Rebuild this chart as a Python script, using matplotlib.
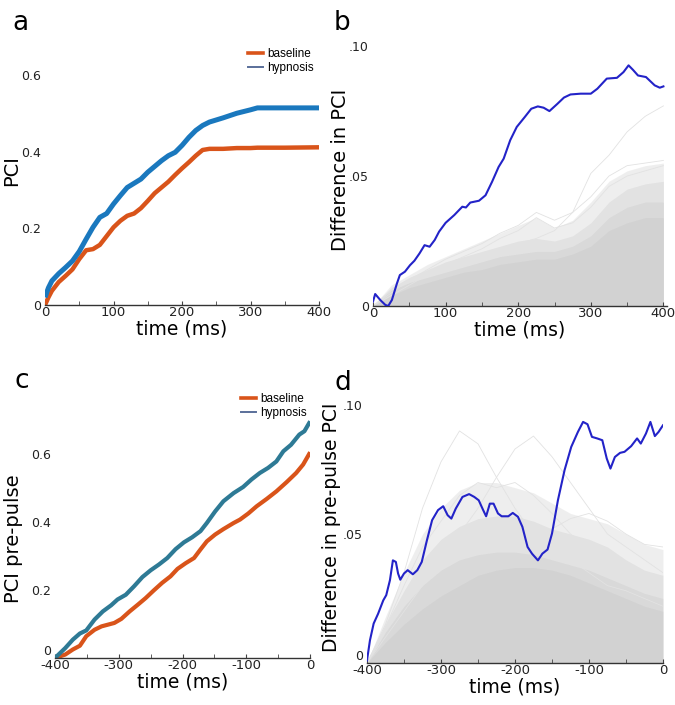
import numpy as np
import matplotlib.pyplot as plt
from matplotlib.lines import Line2D
from matplotlib.ticker import MultipleLocator

# ---- panel a: PCI after pulse ----
t_a = [0, 5, 10, 20, 30, 40, 50, 60, 70, 80, 90, 100, 110, 120, 130, 140, 150,
       160, 170, 180, 190, 200, 210, 220, 230, 240, 260, 280, 300, 310, 350, 400]
pci_baseline = [0.0, 0.02, 0.037, 0.06, 0.076, 0.093, 0.12, 0.143, 0.146, 0.157, 0.18, 0.203,
                0.22, 0.233, 0.239, 0.253, 0.272, 0.292, 0.307, 0.322, 0.34, 0.357, 0.373,
                0.39, 0.405, 0.408, 0.408, 0.41, 0.41, 0.411, 0.411, 0.412]
pci_hypnosis = [0.02, 0.045, 0.063, 0.082, 0.098, 0.115, 0.14, 0.172, 0.203, 0.229, 0.239,
                0.264, 0.286, 0.307, 0.318, 0.329, 0.347, 0.362, 0.377, 0.39, 0.399, 0.417,
                0.438, 0.456, 0.469, 0.478, 0.489, 0.501, 0.51, 0.515, 0.515, 0.515]

# ---- panel b: observed difference + permutation distribution ----
t_b = [0, 3, 10, 17, 21, 26, 33, 37, 44, 51, 57, 64, 71, 78, 85, 91, 100, 112, 123, 128,
       134, 146, 155, 164, 173, 180, 189, 198, 209, 218, 227, 235, 243, 254, 263, 272,
       286, 300, 309, 322, 336, 345, 352, 358, 365, 376, 388, 395, 400]
diff_b = [0.0017, 0.0046, 0.0023, 0.0004, 0.0, 0.0023, 0.0087, 0.0119, 0.0132, 0.0157,
          0.0174, 0.0202, 0.0234, 0.0228, 0.0254, 0.0286, 0.032, 0.035, 0.0382, 0.0379,
          0.0398, 0.0405, 0.0426, 0.0478, 0.0535, 0.0567, 0.0638, 0.0689, 0.0727, 0.0759,
          0.0768, 0.0763, 0.075, 0.0778, 0.0802, 0.0814, 0.0817, 0.0817, 0.0836, 0.0875,
          0.0878, 0.09, 0.0926, 0.0909, 0.0887, 0.0881, 0.0849, 0.084, 0.0845]

t_perm_b = [0, 25, 50, 75, 100, 125, 150, 175, 200, 225, 250, 275, 300, 325, 350, 375, 400]
# envelopes of the gray permutation curves, bottom (solid) to top (sparse)
perm_b_env = [
    [0, .004, .007, .009, .011, .013, .014, .016, .017, .018, .018, .020, .023, .029, .032, .034, .034],
    [0, .006, .009, .011, .013, .015, .017, .019, .020, .021, .021, .023, .027, .034, .038, .040, .040],
    [0, .007, .011, .014, .017, .019, .021, .023, .025, .026, .025, .027, .032, .040, .045, .047, .048],
    [0, .008, .012, .016, .019, .022, .025, .028, .031, .034, .030, .033, .040, .048, .052, .054, .055],
]
perm_b_lines = [
    [0, .004, .008, .012, .015, .018, .020, .022, .024, .026, .029, .036, .051, .058, .067, .073, .077],
    [0, .005, .010, .014, .018, .021, .024, .028, .031, .036, .033, .036, .042, .050, .054, .055, .056],
    [0, .006, .009, .013, .016, .019, .022, .026, .029, .034, .030, .032, .038, .046, .050, .052, .054],
]

# ---- panel c: PCI before pulse ----
t_c = [-400, -384, -372, -361, -351, -338, -327, -317, -307, -296, -283, -270, -258, -245,
       -232, -219, -208, -195, -182, -172, -162, -149, -136, -120, -110, -97, -84, -68,
       -53, -37, -22, -11, 0]
pre_baseline = [0.0, 0.01, 0.025, 0.036, 0.064, 0.083, 0.093, 0.098, 0.103, 0.115, 0.137,
                0.157, 0.176, 0.199, 0.221, 0.24, 0.262, 0.279, 0.294, 0.319, 0.343, 0.363,
                0.379, 0.397, 0.407, 0.425, 0.446, 0.468, 0.49, 0.517, 0.544, 0.569, 0.605]
t_c2 = [-400, -384, -372, -361, -351, -338, -325, -312, -302, -289, -276, -263, -250, -237,
        -224, -211, -198, -185, -172, -162, -149, -136, -120, -105, -92, -79, -66, -53,
        -42, -30, -17, -9, 0]
pre_hypnosis = [0.0, 0.029, 0.054, 0.072, 0.081, 0.113, 0.137, 0.155, 0.172, 0.186, 0.211,
                0.238, 0.258, 0.275, 0.294, 0.32, 0.34, 0.355, 0.373, 0.397, 0.431, 0.461,
                0.485, 0.503, 0.525, 0.544, 0.559, 0.578, 0.608, 0.627, 0.657, 0.667, 0.696]

# ---- panel d: observed pre-pulse difference + permutation distribution ----
t_d = [-400, -396, -391, -385, -378, -374, -369, -365, -361, -358, -355, -350, -345, -338,
       -332, -326, -319, -312, -304, -297, -291, -286, -280, -271, -262, -255, -249, -243,
       -239, -234, -229, -223, -218, -209, -203, -196, -190, -183, -177, -169, -163, -156,
       -150, -142, -133, -124, -115, -108, -102, -96, -89, -82, -76, -71, -65, -58, -52,
       -43, -35, -30, -23, -17, -11, -6, 0]
diff_d = [0.001, 0.0088, 0.0153, 0.0191, 0.0243, 0.0263, 0.0321, 0.0398, 0.0392, 0.0347,
          0.0323, 0.0347, 0.036, 0.0344, 0.036, 0.0392, 0.0476, 0.0554, 0.0593, 0.0608,
          0.0573, 0.056, 0.0599, 0.0644, 0.0655, 0.0644, 0.0631, 0.0593, 0.0569, 0.0618,
          0.0618, 0.058, 0.0569, 0.0569, 0.0582, 0.0567, 0.0528, 0.045, 0.0424, 0.0398,
          0.0424, 0.044, 0.0502, 0.0631, 0.0748, 0.0838, 0.0896, 0.0935, 0.0926, 0.0877,
          0.0871, 0.0864, 0.0793, 0.0754, 0.0799, 0.0815, 0.0819, 0.0841, 0.0871, 0.0851,
          0.089, 0.0935, 0.088, 0.0896, 0.0922]

t_perm_d = [-400, -375, -350, -325, -300, -275, -250, -225, -200, -175, -150, -125, -100,
            -75, -50, -25, 0]
perm_d_env = [
    [0, .008, .015, .021, .026, .030, .034, .036, .037, .037, .036, .034, .031, .028, .025, .022, .020],
    [0, .012, .022, .030, .036, .040, .042, .043, .043, .042, .040, .038, .036, .033, .030, .027, .025],
    [0, .015, .028, .040, .048, .053, .056, .057, .057, .055, .052, .050, .048, .045, .040, .036, .034],
    [0, .018, .035, .050, .060, .067, .070, .070, .068, .066, .062, .058, .056, .054, .050, .046, .044],
]
perm_d_lines = [
    [0, .015, .035, .060, .078, .090, .085, .072, .060, .050, .045, .040, .035, .030, .028, .025, .022],
    [0, .010, .020, .030, .040, .050, .060, .072, .083, .088, .080, .070, .060, .050, .045, .040, .035],
    [0, .012, .025, .035, .042, .048, .050, .052, .050, .048, .052, .056, .058, .055, .050, .046, .045],
    [0, .014, .030, .045, .055, .065, .070, .068, .070, .065, .058, .050, .045, .040, .035, .030, .028],
]

ORANGE = '#d9541a'
BLUE_A = '#1a78be'
BLUE_C = '#2e7a95'
BLUE_DIFF = '#2323c8'


def style_axis(ax):
    for side in ('top', 'right', 'left'):
        ax.spines[side].set_visible(False)
    ax.spines['bottom'].set_color('#333333')
    ax.spines['bottom'].set_linewidth(1.0)
    ax.tick_params(axis='y', length=0, labelsize=9, pad=3, colors='#222222')
    ax.tick_params(axis='x', which='both', direction='in', length=3, labelsize=9.5,
                   pad=1, colors='#444444', labelcolor='#222222')
    ax.xaxis.set_minor_locator(MultipleLocator(50))


def add_legend(ax, fig, anchor):
    handles = [Line2D([], [], color=ORANGE, lw=2.6),
               Line2D([], [], color='#5a6f9a', lw=1.4)]
    ax.legend(handles, ['baseline', 'hypnosis'], loc='upper left', bbox_to_anchor=anchor,
              bbox_transform=fig.transFigure, frameon=False, borderpad=0,
              handlelength=1.3, handletextpad=0.3, labelspacing=0.15,
              prop={'family': 'Liberation Sans', 'size': 8.5})


def perm_cloud(ax, t, envelopes, lines):
    # stacked translucent fills give the dense-at-bottom look of many gray curves
    for env in envelopes:
        ax.fill_between(t, 0, env, color='#bfbfbf', alpha=0.25, lw=0, zorder=1)
    for ln in lines:
        ax.plot(t, ln, color='#e2e2e2', lw=0.6, zorder=1)


def set_ylabel_at(ax, fig, text, right_px, size):
    # right_px: right edge of the rotated label, in figure pixels
    ax.set_ylabel(text, fontsize=size)
    x0 = ax.get_position().x0 * 675
    w = ax.get_position().width * 675
    ax.yaxis.set_label_coords((right_px - x0) / w, 0.5)


def main():
    fig = plt.figure(figsize=(6.75, 7.05), dpi=100)

    # a
    ax = fig.add_axes([0.0667, 0.5674, 0.406, 0.380])
    ax.plot(t_a, pci_baseline, color=ORANGE, lw=3.2, solid_capstyle='butt')
    ax.plot(t_a, pci_hypnosis, color=BLUE_A, lw=3.6, solid_capstyle='butt')
    ax.set_xlim(0, 400)
    ax.set_ylim(0, 0.7)
    ax.set_xticks([0, 100, 200, 300, 400])
    ax.set_yticks([0, 0.2, 0.4, 0.6])
    ax.set_yticklabels(['0', '0.2', '0.4', '0.6'])
    style_axis(ax)
    ax.set_xlabel('time (ms)', fontsize=13.5, labelpad=0)
    set_ylabel_at(ax, fig, 'PCI', 21, 14)
    add_legend(ax, fig, (242 / 675, 1 - 42 / 705))

    # b
    ax = fig.add_axes([0.5526, 0.566, 0.4356, 0.387])
    perm_cloud(ax, t_perm_b, perm_b_env, perm_b_lines)
    ax.plot(t_b, diff_b, color=BLUE_DIFF, lw=1.5, zorder=3)
    ax.set_xlim(0, 405)
    ax.set_ylim(0, 0.105)
    ax.set_xticks([0, 100, 200, 300, 400])
    ax.set_yticks([0, 0.05, 0.10])
    ax.set_yticklabels(['0', '.05', '.10'])
    style_axis(ax)
    ax.set_xlabel('time (ms)', fontsize=13.5, labelpad=0)
    set_ylabel_at(ax, fig, 'Difference in PCI', 350, 14)

    # c
    ax = fig.add_axes([0.0815, 0.0667, 0.378, 0.3376])
    ax.plot(t_c, pre_baseline, color=ORANGE, lw=3.0, solid_capstyle='butt')
    ax.plot(t_c2, pre_hypnosis, color=BLUE_C, lw=3.0, solid_capstyle='butt')
    ax.set_xlim(-400, 0)
    ax.set_ylim(0, 0.7)
    ax.set_xticks([-400, -300, -200, -100, 0])
    ax.set_xticklabels(['-400', '-300', '-200', '-100', '0'])
    ax.set_yticks([0, 0.2, 0.4, 0.6])
    ax.set_yticklabels(['0', '0.2', '0.4', '0.6'])
    style_axis(ax)
    ax.get_yticklabels()[0].set_va('bottom')
    ax.set_xlabel('time (ms)', fontsize=13.5, labelpad=0)
    set_ylabel_at(ax, fig, 'PCI pre-pulse', 23, 14)
    add_legend(ax, fig, (235 / 675, 1 - 387 / 705))

    # d
    ax = fig.add_axes([0.5437, 0.0596, 0.4385, 0.384])
    perm_cloud(ax, t_perm_d, perm_d_env, perm_d_lines)
    ax.plot(t_d, diff_d, color=BLUE_DIFF, lw=1.5, zorder=3)
    ax.set_xlim(-400, 0)
    ax.set_ylim(0, 0.105)
    ax.set_xticks([-400, -300, -200, -100, 0])
    ax.set_xticklabels(['-400', '-300', '-200', '-100', '0'])
    ax.set_yticks([0, 0.05, 0.10])
    ax.set_yticklabels(['0', '.05', '.10'])
    style_axis(ax)
    ax.get_yticklabels()[0].set_va('bottom')
    ax.set_xlabel('time (ms)', fontsize=13.5, labelpad=0)
    set_ylabel_at(ax, fig, 'Difference in pre-pulse PCI', 341, 13.5)

    for letter, x, y in [('a', 12, 30), ('b', 334, 30), ('c', 14, 388), ('d', 334, 390)]:
        fig.text(x / 675, 1 - y / 705, letter, fontsize=19, ha='left', va='baseline')

    fig.savefig('out.png', dpi=100)


if __name__ == '__main__':
    main()
